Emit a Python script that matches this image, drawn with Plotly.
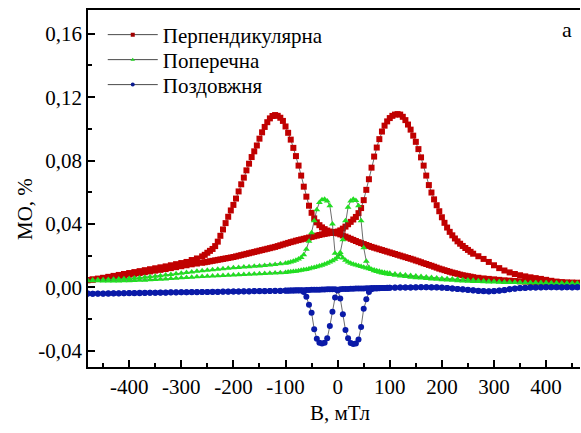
import numpy as np
import plotly.graph_objects as go

# ---------------- field grids (mT) ----------------
red_field = np.concatenate([np.arange(-480, -259, 10), np.arange(-255, 256, 5), np.arange(260, 471, 10)])
grn_field = np.concatenate([np.arange(-480, -99, 10), np.arange(-95, 96, 5), np.arange(100, 471, 10)])

# ---------------- Перпендикулярна (red) ----------------
red_a_left = [0.0045, 0.0050, 0.0055, 0.0060, 0.0066, 0.0072, 0.0078, 0.0084, 0.0090, 0.0096,
              0.0102, 0.0108, 0.0114, 0.0120, 0.0126, 0.0132, 0.0139, 0.0146, 0.0153, 0.0160,
              0.0172, 0.0182, 0.0195]
red_a_mid = [0.0205, 0.0218, 0.0230, 0.0242, 0.0260, 0.0288, 0.0325, 0.0365, 0.0405, 0.0445,
             0.0485, 0.0520, 0.0560, 0.0605, 0.0650, 0.0692, 0.0738, 0.0780, 0.0822, 0.0858,
             0.0895, 0.0938, 0.0978, 0.1012, 0.1042, 0.1066, 0.1081, 0.1087, 0.1082, 0.1070,
             0.1050, 0.1015, 0.0975, 0.0932, 0.0880, 0.0828, 0.0768, 0.0705, 0.0635, 0.0572,
             0.0515, 0.0470, 0.0435, 0.0410, 0.0392, 0.0378, 0.0367, 0.0358, 0.0352, 0.0347,
             0.0343, 0.0340,
             0.0334, 0.0327, 0.0320, 0.0313, 0.0306, 0.0299, 0.0292, 0.0285, 0.0279, 0.0273,
             0.0267, 0.0261, 0.0255, 0.0250, 0.0245, 0.0240, 0.0235, 0.0230, 0.0225, 0.0220,
             0.0215, 0.0210, 0.0205, 0.0200, 0.0195, 0.0190, 0.0185, 0.0180, 0.0175, 0.0169,
             0.0164, 0.0158, 0.0152, 0.0147, 0.0141, 0.0136, 0.0130, 0.0124, 0.0118, 0.0113,
             0.0108, 0.0103, 0.0098, 0.0093, 0.0089, 0.0085, 0.0080, 0.0076, 0.0073, 0.0070,
             0.0067]
red_a_right = [0.0064, 0.0060, 0.0056, 0.0053, 0.0050, 0.0047, 0.0044, 0.0042, 0.0040, 0.0038,
               0.0036, 0.0034, 0.0033, 0.0031, 0.0030, 0.0029, 0.0028, 0.0027, 0.0026, 0.0026,
               0.0025, 0.0025]

red_b_left = [0.0045, 0.0048, 0.0052, 0.0056, 0.0060, 0.0065, 0.0070, 0.0075, 0.0080, 0.0085,
              0.0090, 0.0095, 0.0100, 0.0105, 0.0110, 0.0115, 0.0121, 0.0127, 0.0133, 0.0139,
              0.0145, 0.0150, 0.0155]
red_b_mid = [0.0158, 0.0161, 0.0164, 0.0167, 0.0170, 0.0173, 0.0176, 0.0179, 0.0182, 0.0185,
             0.0188, 0.0191, 0.0195, 0.0199, 0.0203, 0.0207, 0.0211, 0.0215, 0.0219, 0.0223,
             0.0227, 0.0231, 0.0235, 0.0239, 0.0243, 0.0247, 0.0251, 0.0255, 0.0260, 0.0265,
             0.0270, 0.0275, 0.0280, 0.0285, 0.0289, 0.0294, 0.0298, 0.0302, 0.0306, 0.0310,
             0.0314, 0.0318, 0.0322, 0.0326, 0.0330, 0.0334, 0.0337, 0.0340, 0.0343, 0.0346,
             0.0349, 0.0352,
             0.0359, 0.0370, 0.0383, 0.0398, 0.0413, 0.0428, 0.0444, 0.0468, 0.0500, 0.0550,
             0.0615, 0.0682, 0.0755, 0.0825, 0.0882, 0.0935, 0.0983, 0.1020, 0.1047, 0.1068,
             0.1082, 0.1090, 0.1093, 0.1090, 0.1076, 0.1055, 0.1027, 0.0995, 0.0957, 0.0918,
             0.0872, 0.0820, 0.0768, 0.0705, 0.0645, 0.0598, 0.0555, 0.0518, 0.0480, 0.0442,
             0.0407, 0.0377, 0.0350, 0.0328, 0.0308, 0.0290, 0.0275, 0.0261, 0.0248, 0.0236,
             0.0224]
red_b_right = [0.0212, 0.0196, 0.0179, 0.0160, 0.0139, 0.0121, 0.0106, 0.0094, 0.0084, 0.0076,
               0.0069, 0.0063, 0.0058, 0.0053, 0.0047, 0.0041, 0.0036, 0.0033, 0.0031, 0.0030,
               0.0029, 0.0028]

# ---------------- Поперечна (green) ----------------
grn_a_left = [0.0045, 0.0046, 0.0047, 0.0048, 0.0049, 0.0051, 0.0052, 0.0054, 0.0056, 0.0058,
              0.0061, 0.0064, 0.0067, 0.0070, 0.0073, 0.0077, 0.0081, 0.0085, 0.0089, 0.0093,
              0.0097, 0.0101, 0.0105, 0.0108, 0.0111, 0.0114, 0.0117, 0.0120, 0.0123, 0.0125,
              0.0128, 0.0130, 0.0133, 0.0135, 0.0138, 0.0141, 0.0144, 0.0148, 0.0152]
grn_a_mid = [0.0155, 0.0159, 0.0164, 0.0170, 0.0178, 0.0188, 0.0205, 0.0240, 0.0290, 0.0345,
             0.0420, 0.0490, 0.0535, 0.0552, 0.0555, 0.0545, 0.0515, 0.0400, 0.0215, 0.0190,
             0.0205, 0.0185, 0.0170, 0.0160, 0.0152, 0.0146, 0.0141, 0.0136, 0.0131, 0.0126,
             0.0121, 0.0117, 0.0113, 0.0109, 0.0105, 0.0101, 0.0097, 0.0094, 0.0091]
grn_a_right = [0.0088, 0.0084, 0.0080, 0.0077, 0.0074, 0.0071, 0.0068, 0.0065, 0.0062, 0.0059,
               0.0056, 0.0054, 0.0052, 0.0050, 0.0048, 0.0046, 0.0044, 0.0042, 0.0040, 0.0038,
               0.0036, 0.0035, 0.0034, 0.0033, 0.0032, 0.0031, 0.0030, 0.0029, 0.0029, 0.0028,
               0.0028, 0.0027, 0.0027, 0.0026, 0.0026, 0.0026, 0.0025, 0.0025]

grn_b_left = [0.0042, 0.0041, 0.0041, 0.0040, 0.0040, 0.0040, 0.0040, 0.0041, 0.0042, 0.0043,
              0.0044, 0.0045, 0.0047, 0.0049, 0.0051, 0.0053, 0.0055, 0.0057, 0.0060, 0.0062,
              0.0064, 0.0066, 0.0068, 0.0070, 0.0072, 0.0073, 0.0075, 0.0076, 0.0078, 0.0079,
              0.0081, 0.0082, 0.0084, 0.0085, 0.0087, 0.0088, 0.0090, 0.0092, 0.0094]
grn_b_mid = [0.0096, 0.0098, 0.0100, 0.0102, 0.0104, 0.0107, 0.0110, 0.0113, 0.0117, 0.0121,
             0.0125, 0.0129, 0.0134, 0.0139, 0.0145, 0.0152, 0.0160, 0.0168, 0.0177, 0.0190,
             0.0220, 0.0300, 0.0420, 0.0505, 0.0545, 0.0555, 0.0548, 0.0515, 0.0420, 0.0250,
             0.0165, 0.0125, 0.0112, 0.0105, 0.0100, 0.0095, 0.0091, 0.0087, 0.0084]
grn_b_right = [0.0081, 0.0076, 0.0072, 0.0068, 0.0064, 0.0061, 0.0058, 0.0055, 0.0052, 0.0050,
               0.0048, 0.0046, 0.0044, 0.0042, 0.0040, 0.0038, 0.0037, 0.0036, 0.0035, 0.0034,
               0.0033, 0.0032, 0.0031, 0.0030, 0.0030, 0.0029, 0.0029, 0.0028, 0.0028, 0.0027,
               0.0027, 0.0026, 0.0026, 0.0025, 0.0025, 0.0025, 0.0024, 0.0024]

# ---------------- Поздовжня (blue) ----------------
blu_a_left = [-0.0042, -0.0040, -0.0041, -0.0039, -0.0040, -0.0038, -0.0039, -0.0037, -0.0037, -0.0036,
              -0.0037, -0.0035, -0.0035, -0.0034, -0.0035, -0.0033, -0.0033, -0.0032, -0.0032, -0.0031,
              -0.0032, -0.0030, -0.0030, -0.0029, -0.0030, -0.0028, -0.0028, -0.0027, -0.0027, -0.0026,
              -0.0027, -0.0025, -0.0025, -0.0024, -0.0025, -0.0023, -0.0023, -0.0022, -0.0022]
blu_a_mid = [-0.0022, -0.0021, -0.0021, -0.0021, -0.0020, -0.0021, -0.0030, -0.0060, -0.0110, -0.0160,
             -0.0265, -0.0325, -0.0350, -0.0355, -0.0350, -0.0322, -0.0245, -0.0155, -0.0065, -0.0020,
             -0.0012, -0.0011, -0.0010, -0.0010, -0.0009, -0.0009, -0.0008, -0.0008, -0.0007, -0.0007,
             -0.0006, -0.0006, -0.0005, -0.0005, -0.0005, -0.0004, -0.0004, -0.0004, -0.0003]
blu_a_right = [-0.0003, -0.0002, -0.0002, -0.0001, -0.0001, 0.0000, 0.0000, 0.0001, 0.0000, 0.0000,
               -0.0002, -0.0004, -0.0007, -0.0010, -0.0013, -0.0016, -0.0019, -0.0022, -0.0024, -0.0025,
               -0.0024, -0.0021, -0.0017, -0.0012, -0.0008, -0.0005, -0.0003, -0.0002, -0.0001, 0.0000,
               0.0000, 0.0001, 0.0000, -0.0001, 0.0000, 0.0001, 0.0000, -0.0001]

blu_b_left = [-0.0038, -0.0041, -0.0039, -0.0040, -0.0038, -0.0039, -0.0037, -0.0038, -0.0036, -0.0037,
              -0.0035, -0.0036, -0.0034, -0.0035, -0.0033, -0.0034, -0.0032, -0.0033, -0.0031, -0.0032,
              -0.0030, -0.0031, -0.0029, -0.0030, -0.0028, -0.0029, -0.0027, -0.0028, -0.0026, -0.0027,
              -0.0025, -0.0026, -0.0024, -0.0025, -0.0023, -0.0024, -0.0022, -0.0023, -0.0021]
blu_b_mid = [-0.0021, -0.0020, -0.0020, -0.0019, -0.0019, -0.0018, -0.0018, -0.0017, -0.0017, -0.0016,
             -0.0016, -0.0015, -0.0015, -0.0014, -0.0014, -0.0013, -0.0013, -0.0012, -0.0012, -0.0015,
             -0.0070, -0.0170, -0.0270, -0.0322, -0.0352, -0.0358, -0.0355, -0.0330, -0.0250, -0.0135,
             -0.0075, -0.0030, -0.0012, -0.0008, -0.0007, -0.0006, -0.0005, -0.0004, -0.0004]
blu_b_right = [-0.0003, -0.0003, -0.0002, -0.0002, -0.0001, -0.0001, 0.0000, 0.0000, -0.0001, -0.0001,
               -0.0003, -0.0005, -0.0008, -0.0011, -0.0014, -0.0017, -0.0020, -0.0023, -0.0025, -0.0026,
               -0.0025, -0.0022, -0.0018, -0.0013, -0.0009, -0.0006, -0.0004, -0.0002, -0.0001, -0.0001,
               0.0000, 0.0000, 0.0001, 0.0000, 0.0000, -0.0001, 0.0000, 0.0000]

# ---------------- ticks / labels ----------------
x_tick_vals = [-400, -300, -200, -100, 0, 100, 200, 300, 400]
x_tick_text = ["-400", "-300", "-200", "-100", "0", "100", "200", "300", "400"]
x_minor_vals = [-450, -350, -250, -150, -50, 50, 150, 250, 350, 450]
y_tick_vals = [-0.04, 0.0, 0.04, 0.08, 0.12, 0.16]
y_tick_text = ["-0,04", "0,00", "0,04", "0,08", "0,12", "0,16"]
y_minor_vals = [-0.02, 0.02, 0.06, 0.10, 0.14]

names = ["Перпендикулярна", "Поперечна", "Поздовжня"]
colors = ["#c00000", "#22dd22", "#0a1aa8"]
legend_colors = ["#a00000", "#22cc22", "#0a1a90"]
symbols = ["square", "triangle-up", "circle"]
sizes = [6, 6, 6]
legend_ids = ["legend", "legend2", "legend3"]
legend_rows_y = [0.930, 0.860, 0.790]

series = [
    (red_field, [red_a_left + red_a_mid + red_a_right, red_b_left + red_b_mid + red_b_right]),
    (grn_field, [grn_a_left + grn_a_mid + grn_a_right, grn_b_left + grn_b_mid + grn_b_right]),
    (grn_field, [blu_a_left + blu_a_mid + blu_a_right, blu_b_left + blu_b_mid + blu_b_right]),
]

FONT = "Liberation Serif"
fig = go.Figure()
for i, (field, branches) in enumerate(series):
    for j, vals in enumerate(branches):
        assert len(vals) == len(field), (i, j, len(vals), len(field))
        fig.add_trace(go.Scatter(
            x=field, y=vals, mode="lines+markers", name=names[i],
            legendgroup=names[i], showlegend=False,
            line=dict(color="#484848", width=0.8),
            marker=dict(symbol=symbols[i], size=sizes[i], color=colors[i], line=dict(width=0)),
        ))
    # legend entry (no data of its own) with the small key marker used in the original
    fig.add_trace(go.Scatter(
        x=[None], y=[None], mode="lines+markers", name=names[i], legendgroup=names[i],
        showlegend=True, legend=legend_ids[i], hoverinfo="skip",
        line=dict(color="#484848", width=1),
        marker=dict(symbol=symbols[i], size=4, color=legend_colors[i], line=dict(width=0)),
    ))

axis_common = dict(
    showline=True, linecolor="black", linewidth=1.5, ticks="inside", ticklen=7,
    tickwidth=1.5, tickcolor="black", showgrid=False, zeroline=False,
    tickfont=dict(family=FONT, size=21, color="black"), tickmode="array",
)
fig.update_xaxes(range=[-479, 465], tickvals=x_tick_vals, ticktext=x_tick_text, mirror=True,
                 minor=dict(tickmode="array", tickvals=x_minor_vals, ticks="inside", ticklen=4,
                            tickwidth=1.5, tickcolor="black", showgrid=False),
                 **axis_common)
fig.update_yaxes(range=[-0.0503, 0.175], tickvals=y_tick_vals, ticktext=y_tick_text,
                 minor=dict(tickmode="array", tickvals=y_minor_vals, ticks="inside", ticklen=4,
                            tickwidth=1.5, tickcolor="black", showgrid=False),
                 **axis_common)

legend_style = dict(x=0.030, xanchor="left", yanchor="middle", bgcolor="rgba(0,0,0,0)",
                    font=dict(family=FONT, size=21, color="black"), itemwidth=50,
                    borderwidth=0)
layout_legends = {lid: dict(y=ly, **legend_style) for lid, ly in zip(legend_ids, legend_rows_y)}

fig.update_layout(
    width=581, height=433, margin=dict(l=88, r=1, t=10, b=66),
    paper_bgcolor="white", plot_bgcolor="white",
    font=dict(family=FONT, size=21, color="black"),
    showlegend=True,
    annotations=[
        dict(text="МО, %", x=-0.128, y=0.4426, xref="paper", yref="paper", textangle=-90,
             showarrow=False, xanchor="center", yanchor="middle", font=dict(family=FONT, size=21)),
        dict(text="В, мТл", x=0.512, y=-0.129, xref="paper", yref="paper",
             showarrow=False, xanchor="center", yanchor="middle", font=dict(family=FONT, size=21)),
        dict(text="а", x=0.9736, y=0.944, xref="paper", yref="paper",
             showarrow=False, xanchor="center", yanchor="middle", font=dict(family=FONT, size=22)),
    ],
    **layout_legends,
)
fig.write_html("out.html")
